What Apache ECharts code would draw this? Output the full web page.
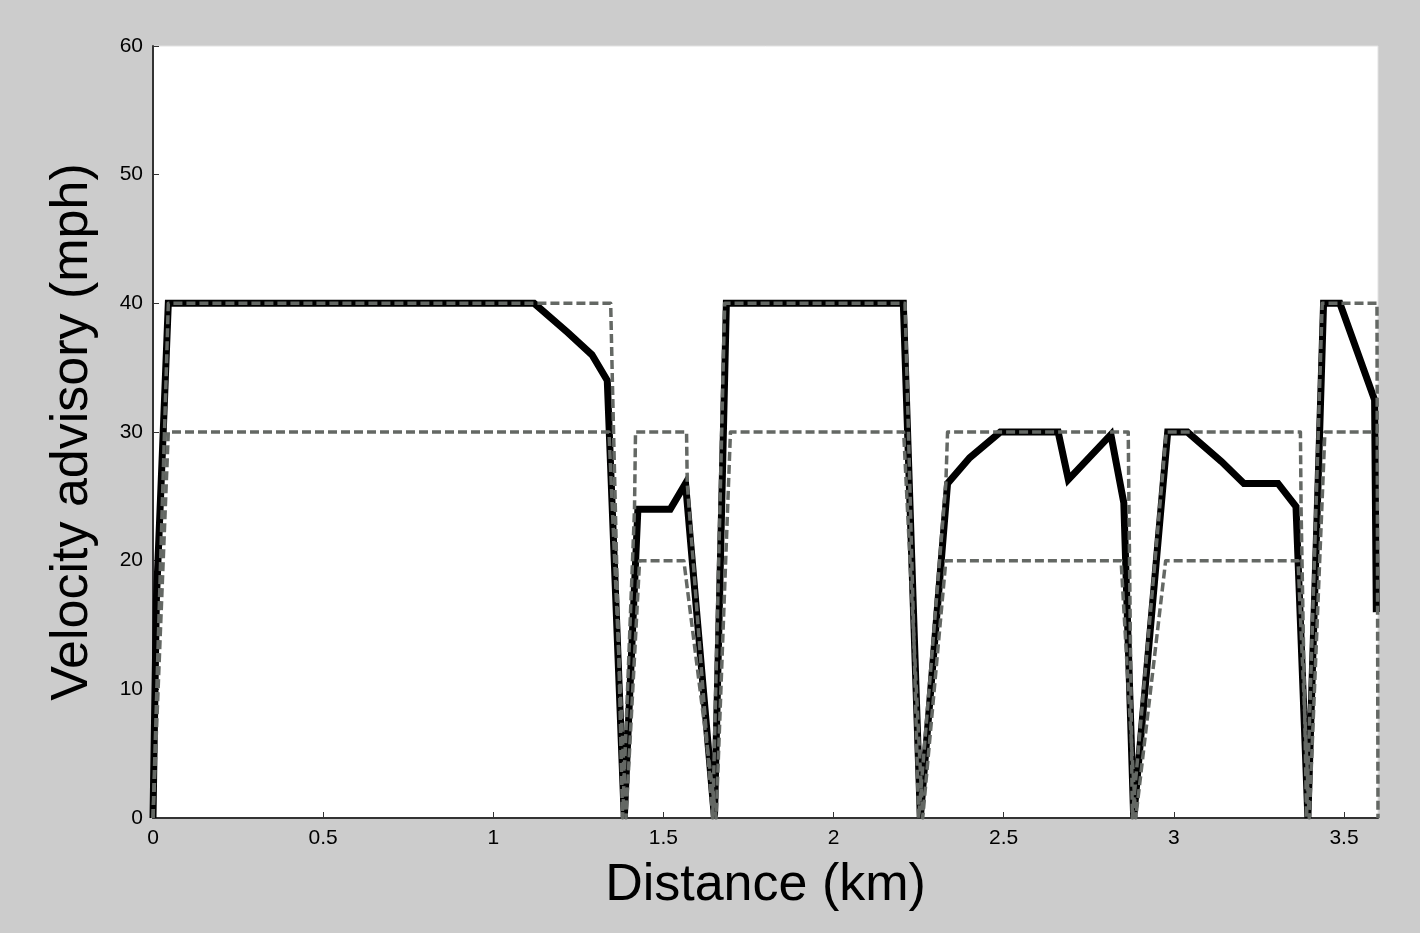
<!DOCTYPE html>
<html>
<head>
<meta charset="utf-8">
<script src="https://cdn.jsdelivr.net/npm/echarts@6/dist/echarts.min.js"></script>
<style>
html,body{margin:0;padding:0;background:#cccccc;}
#chart{width:1420px;height:933px;}
</style>
</head>
<body>
<div id="chart"></div>
<script>
// Velocity advisory (thick black line): [distance km, mph]
const advisory = [
  [0,0],[0.01,17],[0.03,30],[0.045,40],[1.12,40],[1.22,37.7],[1.29,36],[1.335,34],
  [1.385,0],[1.425,24],[1.52,24],[1.565,26],[1.65,0],[1.685,40],[2.205,40],[2.255,0],
  [2.335,26],[2.4,28],[2.49,30],[2.66,30],[2.69,26.3],[2.815,29.8],[2.853,24.5],[2.882,0],
  [2.982,30],[3.04,30],[3.14,27.7],[3.206,26],[3.306,26],[3.359,24.2],[3.394,0],
  [3.44,40],[3.488,40],[3.59,32.5],[3.595,16]
];
// Upper speed bound (grey dashed)
const upperLimit = [
  [0,0],[0.045,40],[1.345,40],[1.35,34],[1.38,0],[1.415,24],[1.418,30],[1.568,30],
  [1.57,26],[1.645,0],[1.68,40],[2.21,40],[2.25,0],[2.33,26],[2.335,30],[2.866,30],
  [2.868,24.5],[2.878,0],[2.978,30],[3.372,30],[3.374,24],[3.39,0],[3.436,40],
  [3.597,40],[3.6,0]
];
// Lower speed bound (grey dashed)
const lowerLimit = [
  [0,0],[0.045,30],[1.34,30],[1.39,0],[1.43,20],[1.56,20],[1.655,0],[1.697,30],
  [2.206,30],[2.262,0],[2.33,20],[2.845,20],[2.888,0],[2.976,20],[3.365,20],
  [3.398,0],[3.444,30],[3.6,30]
];
const xTicks = {min:0, max:3.6, interval:0.5};
const yTicks = {min:0, max:60, interval:10};

const chart = echarts.init(document.getElementById('chart'), null, {renderer:'canvas'});
const font = 'Liberation Sans, Arial, sans-serif';
const grey = '#646864';
chart.setOption({
  backgroundColor:'#cccccc',
  animation:false,
  grid:{left:153, right:42, top:46, bottom:115, show:true, backgroundColor:'#ffffff', borderColor:'#e2e2e2', borderWidth:1},
  xAxis:{
    type:'value', min:xTicks.min, max:xTicks.max, interval:xTicks.interval,
    name:'Distance (km)', nameLocation:'middle', nameGap:42,
    nameTextStyle:{fontFamily:font, fontSize:52, color:'#000', lineHeight:52},
    axisLine:{show:true, lineStyle:{color:'#333', width:2}},
    axisTick:{show:true, inside:true, length:6, lineStyle:{color:'#333', width:1}},
    axisLabel:{fontFamily:font, fontSize:21, color:'#000', margin:10, showMaxLabel:false,
      formatter:v=>String(+v.toFixed(2))},
    splitLine:{show:false}
  },
  yAxis:{
    type:'value', min:yTicks.min, max:yTicks.max, interval:yTicks.interval,
    name:'Velocity advisory (mph)', nameLocation:'middle', nameGap:54, nameRotate:90,
    nameTextStyle:{fontFamily:font, fontSize:52, color:'#000', lineHeight:52},
    axisLine:{show:true, lineStyle:{color:'#333', width:2}},
    axisTick:{show:true, inside:true, length:6, lineStyle:{color:'#333', width:1}},
    axisLabel:{fontFamily:font, fontSize:21, color:'#000', margin:10},
    splitLine:{show:false}
  },
  series:[
    {type:'line', data:advisory, showSymbol:false, symbol:'none', z:2,
      lineStyle:{color:'#000', width:7, join:'miter'}},
    {type:'line', data:lowerLimit, showSymbol:false, symbol:'none', z:3,
      lineStyle:{color:grey, width:3.5, type:[9,4], join:'round'}},
    {type:'line', data:upperLimit, showSymbol:false, symbol:'none', z:4,
      lineStyle:{color:grey, width:3.5, type:[9,4], join:'round'}}
  ]
});
</script>
</body>
</html>
